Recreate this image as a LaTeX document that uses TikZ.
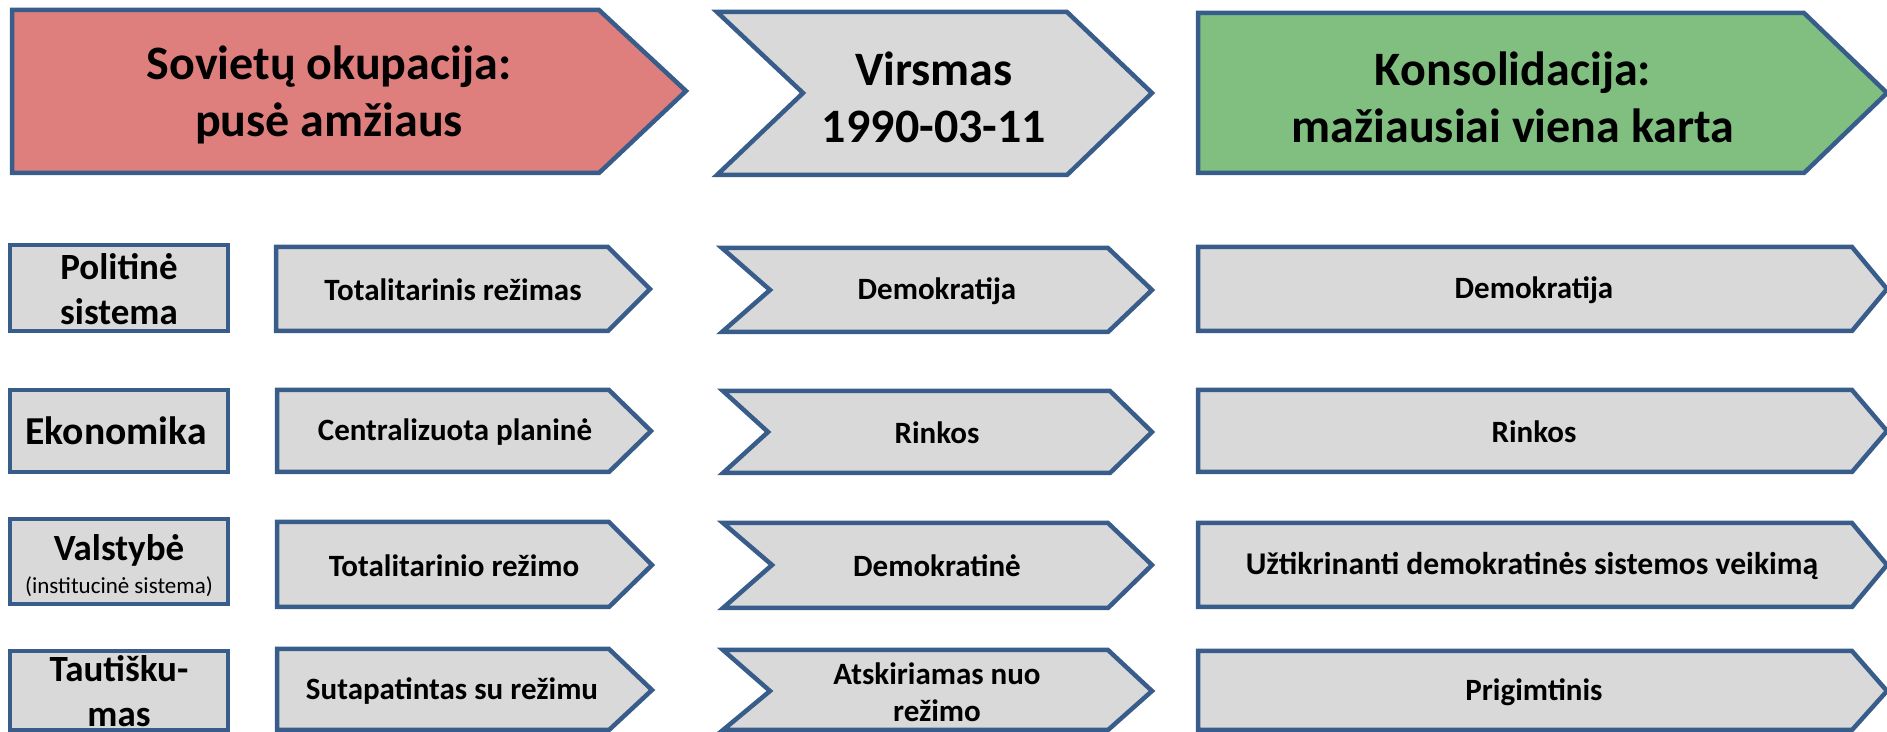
\documentclass[tikz,border=0pt]{standalone}
\usepackage{fontspec}
\setmainfont{Carlito}
\definecolor{edgeblue}{HTML}{385D8A}
\definecolor{boxgray}{HTML}{D9D9D9}
\definecolor{sovred}{HTML}{DF7F7D}
\definecolor{consgreen}{HTML}{80BF80}
\tikzset{
  outl/.style={draw=edgeblue, line width=2.25pt, line join=miter, miter limit=10},
  gbox/.style={outl, fill=boxgray},
  ttl/.style={font=\bfseries\fontsize{24}{28.5}\selectfont, align=center, inner sep=0pt},
  lbl/.style={font=\bfseries\fontsize{18.5}{22.5}\selectfont, align=center, inner sep=0pt},
  itm/.style={font=\bfseries\fontsize{15.5}{18.5}\selectfont, align=center, inner sep=0pt},
  sml/.style={font=\fontsize{11.5}{13.5}\selectfont, inner sep=0pt, anchor=base},
}
\begin{document}
\begin{tikzpicture}[x=0.5pt, y=-0.5pt]
\useasboundingbox (0,0) rectangle (1887,732);
\clip (0,0) rectangle (1887,732);

% ---- top row ----
\draw[outl, fill=sovred] (12,10) -- (599,10) -- (686,91) -- (599,173) -- (12,173) -- cycle;
\draw[gbox] (717,12) -- (1067,12) -- (1152,93) -- (1067,175) -- (717,175) -- (803,93) -- cycle;
\draw[outl, fill=consgreen] (1198,13) -- (1804,13) -- (1887,93) -- (1804,173) -- (1198,173) -- cycle;
\node[ttl] (sov) at (329,95) {Sovietų okupacija:\\pusė amžiaus};
\node[ttl] (vir) at (934,97) {Virsmas\\1990-03-11};
\node[ttl] (kon) at (1513,97) {Konsolidacija:\\mažiausiai viena karta};

% ---- row 1 ----
\draw[gbox] (10,245) rectangle (228,331);
\draw[gbox] (276,247) -- (608,247) -- (650,289) -- (608,331) -- (276,331) -- cycle;
\draw[gbox] (722,248) -- (1108,248) -- (1152,290) -- (1108,332) -- (722,332) -- (770,290) -- cycle;
\draw[gbox] (1198,247) -- (1852,247) -- (1887,289) -- (1852,331) -- (1198,331) -- cycle;
\node[lbl] (pol) at (119,289) {Politinė\\sistema};
\node[itm] (pol1) at (453,290) {Totalitarinis režimas};
\node[itm] (pol2) at (937,291) {Demokratija};
\node[itm] (pol3) at (1534,290) {Demokratija};

% ---- row 2 ----
\draw[gbox] (10,390) rectangle (228,472);
\draw[gbox] (277,390) -- (609,390) -- (651,431) -- (609,472) -- (277,472) -- cycle;
\draw[gbox] (723,391) -- (1110,391) -- (1152,432) -- (1110,473) -- (723,473) -- (768,432) -- cycle;
\draw[gbox] (1198,390) -- (1852,390) -- (1887,431) -- (1852,472) -- (1198,472) -- cycle;
\node[lbl, font=\bfseries\fontsize{19.8}{23}\selectfont] (eko) at (116,431) {Ekonomika};
\node[itm] (eko1) at (455,432) {Centralizuota planinė};
\node[itm] (eko2) at (937,433) {Rinkos};
\node[itm] (eko3) at (1534,432) {Rinkos};

% ---- row 3 ----
\draw[gbox] (10,519) rectangle (228,604);
\draw[gbox] (277,522) -- (609,522) -- (652,565) -- (609,607) -- (277,607) -- cycle;
\draw[gbox] (723,523) -- (1108,523) -- (1152,565) -- (1108,608) -- (723,608) -- (772,565) -- cycle;
\draw[gbox] (1198,523) -- (1852,523) -- (1887,565) -- (1852,607) -- (1198,607) -- cycle;
\node[lbl, anchor=base] (val) at (119,561) {Valstybė};
\node[sml] (vals) at (119,594) {(institucinė sistema)};
\node[itm] (val1) at (454,566) {Totalitarinio režimo};
\node[itm] (val2) at (937,566) {Demokratinė};
\node[itm, font=\bfseries\fontsize{15.8}{18.5}\selectfont] (val3) at (1532,566) {Užtikrinanti demokratinės sistemos veikimą};

% ---- row 4 ----
\draw[gbox] (10,651) rectangle (228,730);
\draw[gbox] (277,649) -- (609,649) -- (652,690) -- (609,730) -- (277,730) -- cycle;
\draw[gbox] (723,650) -- (1108,650) -- (1152,691) -- (1108,730) -- (723,730) -- (770,691) -- cycle;
\draw[gbox] (1198,651) -- (1852,651) -- (1887,691) -- (1852,730) -- (1198,730) -- cycle;
\node[lbl] (tau) at (119,691) {Tautišku-\\mas};
\node[itm] (tau1) at (452,691) {Sutapatintas su režimu};
\node[itm] (tau2) at (937,692) {Atskiriamas nuo\\režimo};
\node[itm] (tau3) at (1534,692) {Prigimtinis};
\end{tikzpicture}
\end{document}
